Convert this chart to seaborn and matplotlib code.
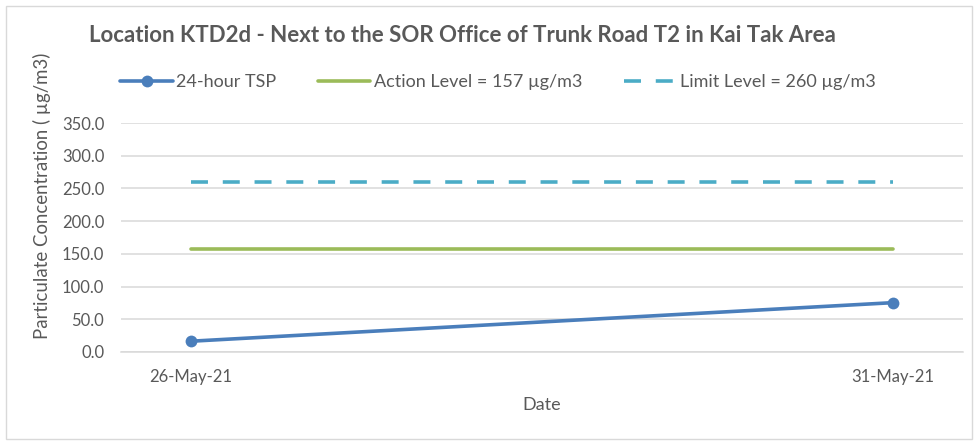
import pandas as pd
import matplotlib.pyplot as plt
import matplotlib.dates as mdates
import seaborn as sns
from matplotlib.patches import Rectangle

# data
dates = ["2021-05-26", "2021-05-31"]
tsp_values = [16.5, 75.4]
action_level = [157, 157]
limit_level = [260, 260]

df = pd.DataFrame({
    "Date": pd.to_datetime(dates),
    "TSP": tsp_values,
    "Action": action_level,
    "Limit": limit_level,
})

sns.set_style("white")
plt.rcParams['font.family'] = ['Lato', 'DejaVu Sans']

fig = plt.figure(figsize=(9.74, 4.41), dpi=100)
ax = fig.add_axes([121 / 974, 1 - 352 / 441, (963 - 121) / 974, (352 - 123) / 441])

grey = '#595959'
sns.lineplot(data=df, x="Date", y="TSP", ax=ax, color='#4A7EBB', linewidth=2.6,
             marker='o', markersize=8.5, markeredgewidth=0, label='24-hour TSP')
sns.lineplot(data=df, x="Date", y="Action", ax=ax, color='#9BBB59', linewidth=2.6,
             label='Action Level = 157 µg/m3')
sns.lineplot(data=df, x="Date", y="Limit", ax=ax, color='#4BACC6', linewidth=2.6,
             dashes=False, label='Limit Level = 260 µg/m3')
ax.lines[-1].set_dashes((4.7, 4.1))

ax.set_ylim(0, 350)
ax.set_yticks(range(0, 351, 50))
ax.set_yticklabels([f"{v:.1f}" for v in range(0, 351, 50)])
start = pd.Timestamp("2021-05-25 12:00")
end = pd.Timestamp("2021-05-31 12:00")
ax.set_xlim(start, end)
ax.set_xticks(df["Date"])
ax.xaxis.set_major_formatter(mdates.DateFormatter("%d-%b-%y"))
ax.set_xticks([start, pd.Timestamp("2021-05-30 12:00")], minor=True)

ax.grid(axis='y', color='#D9D9D9', linewidth=1.1)
for side in ['left', 'right', 'top']:
    ax.spines[side].set_visible(False)
ax.spines['bottom'].set_color('#D9D9D9')
ax.spines['bottom'].set_linewidth(1.1)
ax.tick_params(axis='both', which='major', length=0, labelsize=12, labelcolor=grey, pad=12)
ax.tick_params(axis='x', which='minor', length=5, color='#D9D9D9', width=1)
ax.set_xlabel("")
ax.set_ylabel("")

ax.get_legend().remove()
handles, labels = ax.get_legend_handles_labels()
fig.legend(handles, labels, loc='center', bbox_to_anchor=(498 / 974, 1 - 82 / 441), ncol=3,
           frameon=False, fontsize=13, labelcolor=grey, handlelength=2.9,
           columnspacing=2.3, handletextpad=0.2)

fig.text(462 / 974, 1 - 36 / 441, "Location KTD2d - Next to the SOR Office of Trunk Road T2 in Kai Tak Area",
         ha='center', va='center', fontsize=16, fontweight='bold', color=grey)
fig.text(42 / 974, 1 - 196 / 441, "Particulate Concentration ( µg/m3)", rotation=90,
         ha='center', va='center', fontsize=13.4, color=grey)
fig.text(542 / 974, 1 - 405 / 441, "Date", ha='center', va='center', fontsize=13, color=grey)

fig.patches.append(Rectangle((6 / 974, 2 / 441), 966 / 974, 433 / 441, transform=fig.transFigure,
                             fill=False, edgecolor='#D9D9D9', linewidth=1))

plt.savefig("out.png", dpi=100)
plt.close()
